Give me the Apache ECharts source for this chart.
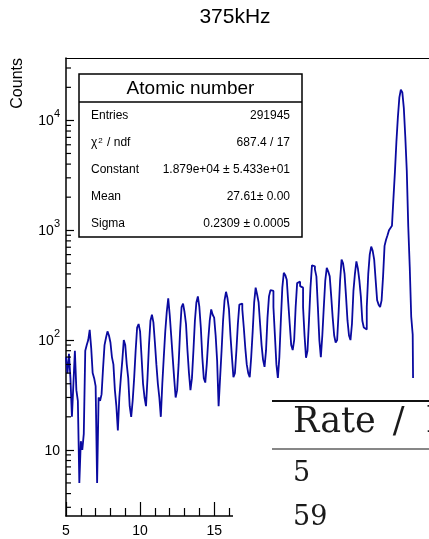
<!DOCTYPE html>
<html>
<head>
<meta charset="utf-8">
<script src="https://cdn.jsdelivr.net/npm/echarts@6/dist/echarts.min.js"></script>
<style>
  html, body { margin: 0; padding: 0; background: #ffffff; }
  #chart { width: 429px; height: 539px; }
</style>
</head>
<body>
<div id="chart"></div>
<script>
// Histogram title and axis title
const titleText = '375kHz';
const yAxisTitle = 'Counts';

// Histogram binning: first bin edge and bin width (atomic number units)
const binStart = 5;
const binWidth = 0.1;

// Counts per bin, ten bins per unit, starting at Z = 5.0
const counts = [
  70, 50, 75, 45, 20, 40, 80, 35, 28, 5,
  12, 10, 14, 80, 90, 100, 124, 85, 50, 45,
  38, 5, 30, 28, 32, 55, 90, 105, 120, 110,
  95, 70, 60, 35, 25, 15, 30, 45, 65, 100,
  90, 60, 45, 25, 20, 28, 45, 80, 130, 140,
  120, 70, 40, 30, 25, 45, 90, 150, 170, 145,
  95, 60, 40, 30, 20, 40, 70, 120, 180, 240,
  170, 110, 70, 45, 30, 35, 60, 120, 200, 215,
  180, 140, 80, 50, 35, 45, 80, 150, 220, 250,
  200, 130, 70, 45, 41, 60, 100, 150, 190, 170,
  160, 110, 65, 25, 45, 80, 150, 230, 275, 240,
  190, 110, 70, 46, 50, 80, 140, 210, 215, 190,
  130, 85, 60, 50, 46, 70, 120, 220, 300, 260,
  220, 140, 90, 66, 57, 80, 160, 250, 285, 280,
  200, 110, 60, 45, 70, 150, 300, 410, 390, 354,
  220, 140, 90, 81, 100, 200, 330, 340, 310, 300,
  200, 110, 69, 80, 150, 300, 480, 470, 440, 380,
  200, 100, 70, 110, 200, 350, 455, 420, 380, 250,
  160, 110, 95, 100, 180, 350, 540, 500, 400, 250,
  150, 110, 100, 140, 280, 400, 520, 450, 350, 250,
  150, 130, 125, 200, 400, 600, 710, 650, 540, 350,
  230, 210, 200, 230, 380, 720, 820, 900, 1000, 1050,
  1100, 1950, 3400, 6400, 10700, 16200, 19000, 18000, 13000, 7100,
  3500, 1080, 465, 163, 112, 0, 0, 0, 0, 0,
  0, 0, 0, 0, 0, 0, 0, 0, 0, 0
];

// Axis ranges (the frame runs on past the right edge of the page)
const xRange = [5, 29.5];
const yRange = [2.5, 37000];

// Minor tick values of the logarithmic count axis
const yMinorTicks = [
  3, 4, 5, 6, 7, 8, 9,
  20, 30, 40, 50, 60, 70, 80, 90,
  200, 300, 400, 500, 600, 700, 800, 900,
  2000, 3000, 4000, 5000, 6000, 7000, 8000, 9000,
  20000, 30000
];

// Fit statistics box
const statsTitle = 'Atomic number';
const statLabels = ['Entries', '{t|\u03c7}{s|2}{t| / ndf}', 'Constant', 'Mean', 'Sigma'];
const statValues = ['291945', '687.4 / 17', '1.879e+04 \u00b1 5.433e+01', '27.61\u00b1 0.00', '0.2309 \u00b1 0.0005'];

// Rate table fragment in the lower right corner
const tableHeader = ['Rate', '/', 'kHz'];
const tableRows = ['5', '59'];

// Step outline: each bin is a point at its lower edge; empty bins sit on the axis floor
const stepData = counts.map((c, i) => [binStart + i * binWidth, Math.max(c, yRange[0])]);
stepData.push([binStart + counts.length * binWidth, yRange[0]]);

const SANS = '"Liberation Sans", Arial, Helvetica, sans-serif';
const SERIF = '"DejaVu Serif", "Liberation Serif", serif';

const chart = echarts.init(document.getElementById('chart'), null, { renderer: 'canvas' });

const statsX = 79, statsY = 74, statsW = 223, statsH = 163, statsHead = 28, rowGap = 26.8;
const statsChildren = [
  { type: 'rect', z: 20, shape: { x: statsX, y: statsY, width: statsW, height: statsH },
    style: { fill: '#ffffff', stroke: '#000000', lineWidth: 1.5 } },
  { type: 'line', z: 21, shape: { x1: statsX, y1: statsY + statsHead, x2: statsX + statsW, y2: statsY + statsHead },
    style: { stroke: '#000000', lineWidth: 1.5 } },
  { type: 'text', z: 21, x: statsX + statsW / 2, y: statsY + statsHead / 2 + 1,
    style: { text: statsTitle, font: '19px ' + SANS, fill: '#000', align: 'center', verticalAlign: 'middle' } }
];
statLabels.forEach((lab, i) => {
  const yy = statsY + statsHead + 14 + i * rowGap;
  statsChildren.push({ type: 'text', z: 21, x: statsX + 12, y: yy,
    style: { text: lab, font: '12px ' + SANS, fill: '#000', align: 'left', verticalAlign: 'middle',
      rich: { t: { fontSize: 12, fontFamily: SANS }, s: { fontSize: 8, fontFamily: SANS, verticalAlign: 'top', lineHeight: 8, padding: [0, 1, 6, 1] } } } });
  statsChildren.push({ type: 'text', z: 21, x: statsX + statsW - 12, y: yy,
    style: { text: statValues[i], font: '12px ' + SANS, fill: '#000', align: 'right', verticalAlign: 'middle' } });
});

const tableX = 233, tableY = 378;
const tableChildren = [
  { type: 'rect', z: 30, shape: { x: tableX, y: tableY, width: 429 - tableX, height: 539 - tableY },
    style: { fill: '#ffffff' } },
  { type: 'line', z: 31, shape: { x1: 272, y1: 401, x2: 429, y2: 401 }, style: { stroke: '#111', lineWidth: 1.8 } },
  { type: 'line', z: 31, shape: { x1: 272, y1: 449, x2: 429, y2: 449 }, style: { stroke: '#111', lineWidth: 1.2 } },
  { type: 'text', z: 31, x: 293, y: 423,
    style: {
      text: '{a|' + tableHeader[0] + '}{b|' + tableHeader[1] + '}{a|' + tableHeader[2] + '}',
      font: '35px ' + SERIF, fill: '#1a1a1a', align: 'left', verticalAlign: 'middle',
      rich: {
        a: { fontSize: 35, fontFamily: SERIF, fill: '#1a1a1a' },
        b: { fontSize: 35, fontFamily: SERIF, fill: '#1a1a1a', padding: [0, 22, 0, 17] }
      }
    } }
];
tableRows.forEach((r, i) => {
  tableChildren.push({ type: 'text', z: 31, x: 293, y: 474 + i * 44,
    style: { text: r, font: '27px ' + SERIF, fill: '#1a1a1a', align: 'left', verticalAlign: 'middle' } });
});

chart.setOption({
  animation: false,
  backgroundColor: '#ffffff',
  grid: { left: 66, right: 0, top: 58, bottom: 23, show: false, containLabel: false },
  xAxis: [
    {
      type: 'value', min: xRange[0], max: xRange[1], interval: 5,
      axisLine: { show: true, onZero: false, lineStyle: { color: '#000', width: 1.5 } },
      axisTick: { show: true, inside: true, length: 14, lineStyle: { color: '#000', width: 1.2 } },
      minorTick: { show: true, splitNumber: 5, length: 8, lineStyle: { color: '#000', width: 1.2 } },
      splitLine: { show: false },
      axisLabel: { color: '#000', fontSize: 14, fontFamily: SANS, margin: 8, showMaxLabel: false }
    },
    {
      // upper edge of the frame
      type: 'value', position: 'top', min: xRange[0], max: xRange[1],
      axisLine: { show: true, onZero: false, lineStyle: { color: '#000', width: 1.2 } },
      axisTick: { show: false }, axisLabel: { show: false }, splitLine: { show: false }
    }
  ],
  yAxis: {
    type: 'log', logBase: 10, min: yRange[0], max: yRange[1],
    axisLine: { show: true, lineStyle: { color: '#000', width: 1.5 } },
    axisTick: { show: true, inside: true, length: 8, lineStyle: { color: '#000', width: 1.2 } },
    minorTick: { show: false },
    splitLine: { show: false },
    axisLabel: {
      showMinLabel: false, showMaxLabel: false, margin: 6, color: '#000',
      formatter: function (v) {
        const e = Math.round(Math.log10(v));
        return e === 1 ? '{b|10}' : '{b|10}{s|' + e + '}';
      },
      rich: {
        b: { fontSize: 14, fontFamily: SANS, color: '#000', lineHeight: 16, verticalAlign: 'bottom' },
        s: { fontSize: 11, fontFamily: SANS, color: '#000', lineHeight: 11, padding: [0, 0, 9, 0], verticalAlign: 'bottom' }
      }
    }
  },
  series: [
    {
      type: 'line', step: 'end', data: stepData, showSymbol: false, symbol: 'none',
      lineStyle: { color: '#0a0aa0', width: 1.8 }, clip: true, z: 3
    },
    {
      type: 'custom', coordinateSystem: 'cartesian2d', silent: true, z: 4,
      data: yMinorTicks.map(v => [xRange[0], v]),
      renderItem: function (params, api) {
        const p = api.coord([api.value(0), api.value(1)]);
        return { type: 'line', shape: { x1: p[0], y1: p[1], x2: p[0] + 5, y2: p[1] },
          style: { stroke: '#000', lineWidth: 1.2 } };
      }
    }
  ],
  graphic: [
    { type: 'text', x: 235, y: 17, z: 10,
      style: { text: titleText, font: '21px ' + SANS, fill: '#000', align: 'center', verticalAlign: 'middle' } },
    { type: 'text', x: 18, y: 58, rotation: Math.PI / 2, z: 10,
      style: { text: yAxisTitle, font: '16px ' + SANS, fill: '#000', align: 'right', verticalAlign: 'middle' } },
    { type: 'group', children: statsChildren },
    { type: 'group', children: tableChildren }
  ]
});
</script>
</body>
</html>
